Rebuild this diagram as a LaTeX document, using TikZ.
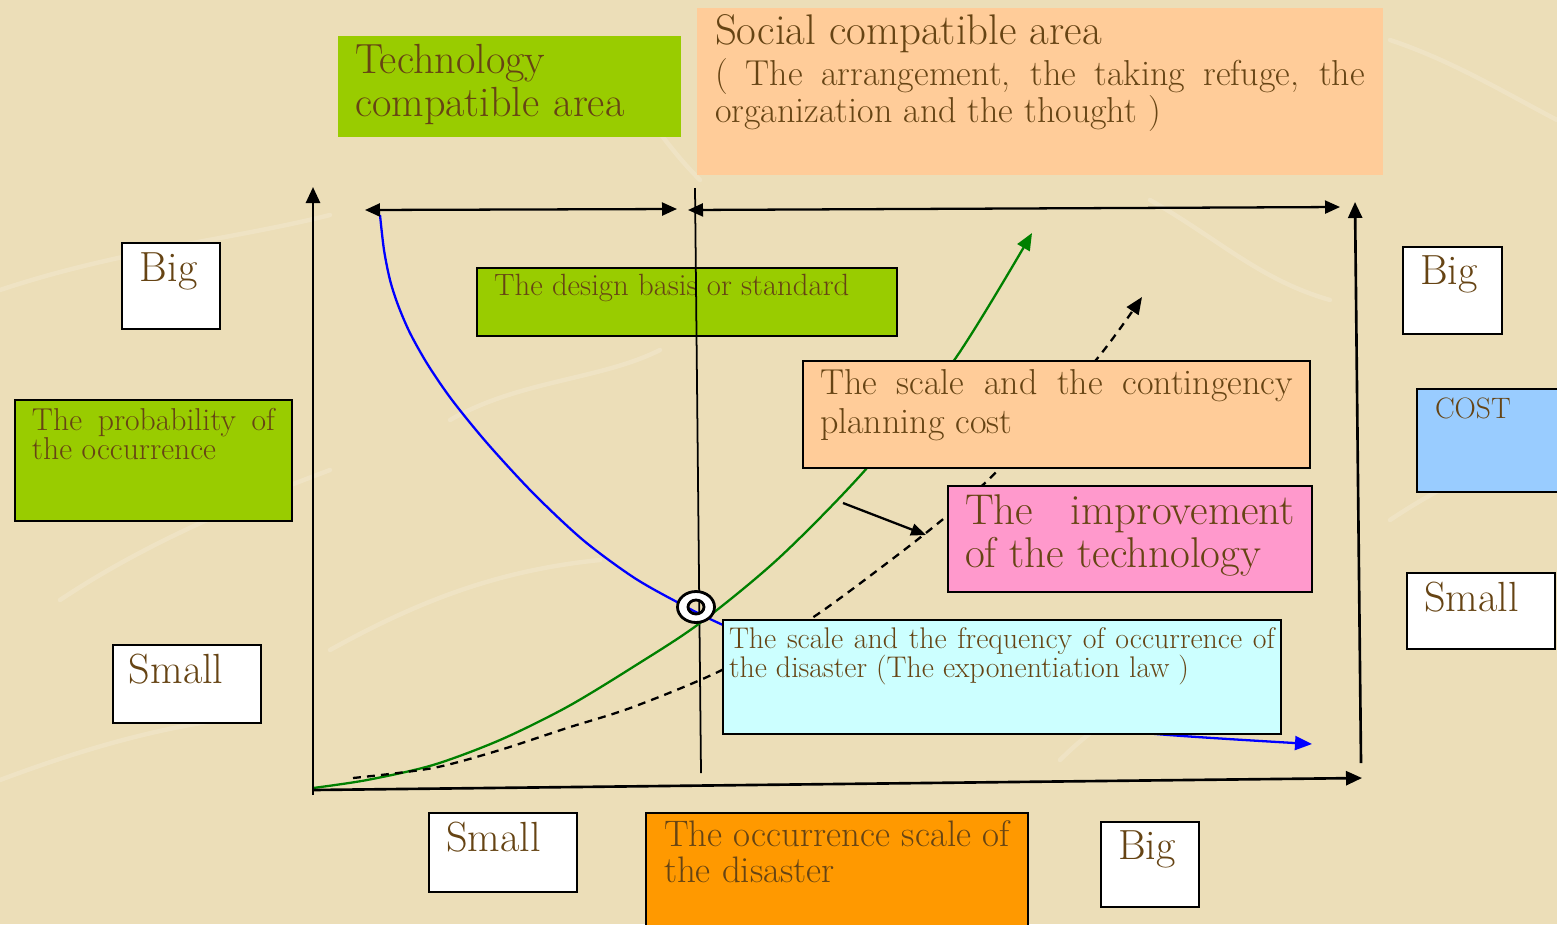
\documentclass[tikz,border=0pt]{standalone}
\usepackage{tikz}
\usetikzlibrary{arrows.meta,positioning,shapes.geometric}
\definecolor{paper}{RGB}{236,222,184}
\definecolor{txtbrown}{RGB}{102,68,20}
\definecolor{techgreen}{RGB}{153,204,0}
\definecolor{socpeach}{RGB}{255,204,153}
\definecolor{imppink}{RGB}{255,153,204}
\definecolor{freqcyan}{RGB}{204,255,255}
\definecolor{scaleorange}{RGB}{255,153,0}
\definecolor{costblue}{RGB}{153,204,255}
\definecolor{curveblue}{RGB}{0,0,255}
\definecolor{curvegreen}{RGB}{0,128,0}
\newcommand{\fsz}[2]{\fontsize{#1}{#2}\selectfont}
\setlength{\parindent}{0pt}
% no hyphens in the labels
\hyphenpenalty=10000
\exhyphenpenalty=10000
\tolerance=9999

\begin{document}
\begin{tikzpicture}[x=0.02cm, y=-0.02cm,
  panel/.style={anchor=north west, inner ysep=0pt, outer sep=0pt, text=txtbrown, align=justify},
  framed/.style={panel, draw=black, line width=1.1pt},
  axisline/.style={line width=1.5pt, -{Triangle[length=0.32cm,width=0.28cm]}},
  spanarrow/.style={line width=1.3pt, {Triangle[length=0.3cm,width=0.26cm]}-{Triangle[length=0.3cm,width=0.26cm]}},
  trend/.style={line width=1.3pt, -{Triangle[length=0.34cm,width=0.28cm]}},
  fibre/.style={white, opacity=0.18, line width=2.5pt, line cap=round}]
\useasboundingbox (0,0) rectangle (1557,924);
\clip (0,0) rectangle (1557,924);
\fill[paper] (0,0) rectangle (1557,924);
% paper fibres
\draw[fibre] (0,290) .. controls (120,250) and (230,240) .. (330,215);
\draw[fibre] (60,600) .. controls (150,540) and (250,500) .. (330,470);
\draw[fibre] (330,650) .. controls (420,600) and (500,570) .. (600,560);
\draw[fibre] (600,60) .. controls (640,100) and (660,140) .. (700,180);
\draw[fibre] (1390,40) .. controls (1450,60) and (1500,90) .. (1557,120);
\draw[fibre] (1390,520) .. controls (1450,480) and (1500,460) .. (1557,440);
\draw[fibre] (0,780) .. controls (80,750) and (150,730) .. (220,720);
\draw[fibre] (1060,760) .. controls (1120,700) and (1180,680) .. (1250,700);
\draw[fibre] (450,420) .. controls (520,380) and (600,380) .. (660,350);
\draw[fibre] (1150,200) .. controls (1220,240) and (1260,280) .. (1330,300);

% design basis (the standard line runs over it)
\node[framed, fill=techgreen, inner xsep=0.34cm, text width=7.72cm, text height=0.54cm, text depth=0.82cm, font=\fsz{17.5}{19}] (design) at (477,268) {The design basis or standard};
\coordinate (stdtop) at (695,188);
\coordinate (stdbot) at (701,773);
\draw[line width=1pt] (stdtop) -- (stdbot);

% frequency curve
\draw[trend, curveblue] plot[smooth] coordinates {(380,215) (384,250) (390,280) (398,305) (410,333) (428,365) (452,400) (487,443) (533,493) (583,540) (633,577) (677,602) (723,625) (850,680) (1000,718) (1156,734) (1312,744)};
% cost curve, before and after the improvement
\draw[trend, curvegreen] plot[smooth] coordinates {(313,788) (367,780) (433,765) (500,740) (567,707) (633,667) (700,623) (780,557) (867,468) (955,359) (1032,233)};
\draw[trend, dash pattern=on 4.5pt off 3.5pt] plot[smooth] coordinates {(353,778) (433,768) (500,750) (567,728) (633,707) (722,670) (809,620) (891,560) (948,515) (1000,468) (1096,360) (1142,297)};
\coordinate (g1) at (843,503);
\coordinate (d1) at (926,535);
\draw[line width=1.3pt, -{Triangle[length=0.3cm,width=0.24cm]}] (g1) -- (d1);

% axes
\coordinate (ybot) at (313,795);
\coordinate (ytop) at (313,187);
\coordinate (O) at (313,790);
\coordinate (xend) at (1362,778);
\coordinate (rbot) at (1361,763);
\coordinate (rtop) at (1355,202);
\draw[axisline] (ybot) -- (ytop);
\draw[axisline] (O) -- (xend);
\draw[axisline] (rbot) -- (rtop);

% compatible areas
\coordinate (tl) at (365,210);
\coordinate (tr) at (677,209);
\coordinate (sl) at (688,210);
\coordinate (sr) at (1340,207);
\draw[spanarrow] (tl) -- (tr);
\draw[spanarrow] (sl) -- (sr);

% optimum point
\coordinate (opt) at (696,607);
\draw[line width=1.6pt, fill=white, even odd rule] (opt) ellipse [x radius=0.37cm, y radius=0.31cm] (opt) ellipse [x radius=0.16cm, y radius=0.14cm];

% labels
\node[panel, fill=techgreen, inner xsep=0.34cm, text width=6.18cm, text height=0.76cm, text depth=1.26cm, align=left, font=\fsz{24}{24.4}] (tech) at (338,36) {Technology compatible area};
\node[panel, fill=socpeach, inner xsep=0.36cm, text width=13cm, text height=0.74cm, text depth=2.6cm] (social) at (697,8)
  {{\fsz{24.4}{24}Social compatible area\par}\vspace{2.3pt}{\fsz{20.5}{21}( The arrangement, the taking refuge, the organization and the thought )\par}};
\node[framed, fill=techgreen, inner xsep=0.34cm, text width=4.86cm, text height=0.6cm, text depth=1.82cm, font=\fsz{18}{17}] (prob) at (15,400) {The probability of the occurrence};
\node[framed, fill=white, inner xsep=0.36cm, text width=1.24cm, text height=0.76cm, text depth=0.96cm, font=\fsz{24}{24}] (bigL) at (122,243) {Big};
\node[framed, fill=white, inner xsep=0.32cm, text width=2.32cm, text height=0.76cm, text depth=0.8cm, font=\fsz{24}{24}] (smallL) at (113,645) {Small};
\node[framed, fill=white, inner xsep=0.34cm, text width=2.28cm, text height=0.76cm, text depth=0.82cm, font=\fsz{24}{24}] (smallB) at (429,813) {Small};
\node[framed, fill=scaleorange, inner xsep=0.36cm, text width=6.92cm, text height=0.66cm, text depth=1.68cm, font=\fsz{21}{21}] (occur) at (646,813) {The occurrence scale of\linebreak the disaster};
\node[framed, fill=white, inner xsep=0.34cm, text width=1.28cm, text height=0.74cm, text depth=0.96cm, font=\fsz{24}{24}] (bigB) at (1101,822) {Big};
\node[framed, fill=white, inner xsep=0.34cm, text width=1.3cm, text height=0.74cm, text depth=1cm, font=\fsz{24}{24}] (bigR) at (1403,247) {Big};
\node[framed, fill=costblue, inner xsep=0.36cm, text width=2.28cm, text height=0.58cm, text depth=1.48cm, font=\fsz{16.8}{17}] (cost) at (1417,389) {COST};
\node[framed, fill=white, inner xsep=0.34cm, text width=2.28cm, text height=0.76cm, text depth=0.76cm, font=\fsz{24}{24}] (smallR) at (1407,573) {Small};
\node[framed, fill=socpeach, inner xsep=0.34cm, text width=9.46cm, text height=0.66cm, text depth=1.48cm, font=\fsz{20.5}{22.2}] (plan) at (803,361) {The scale and the contingency planning cost};
\node[framed, fill=imppink, inner xsep=0.34cm, text width=6.6cm, text height=0.76cm, text depth=1.36cm, font=\fsz{24.5}{24.5}] (improve) at (948,486) {The improvement of the technology};
\node[framed, fill=freqcyan, inner xsep=0.12cm, text width=10.92cm, text height=0.56cm, text depth=1.72cm, font=\fsz{17}{17}] (freq) at (723,620) {The scale and the frequency of occurrence of\linebreak the disaster (The exponentiation law )};
\end{tikzpicture}
\end{document}
